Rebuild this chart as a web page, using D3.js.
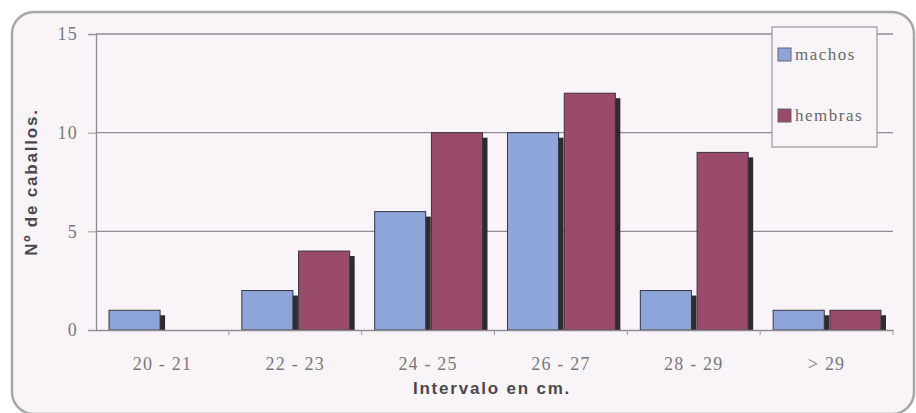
<!DOCTYPE html>
<html>
<head>
<meta charset="utf-8">
<script src="https://cdn.jsdelivr.net/npm/d3@7"></script>
<style>
  html, body { margin: 0; padding: 0; background: #ffffff; }
  svg { display: block; }
</style>
</head>
<body>
<svg id="chart"></svg>
<script>
// Datos
const categorias = ["20 - 21", "22 - 23", "24 - 25", "26 - 27", "28 - 29", "> 29"];
const series = ["machos", "hembras"];
const machos = [1, 2, 6, 10, 2, 1];
const hembras = [0, 4, 10, 12, 9, 1];
const yTicks = [0, 5, 10, 15];

const W = 916, H = 413;
const margin = { top: 34, right: 23, bottom: 83, left: 96 },
      width = W - margin.left - margin.right,
      height = H - margin.top - margin.bottom;

const colores = { machos: "#8ea5da", hembras: "#9a4a6a" };

const svg = d3.select("#chart").attr("width", W).attr("height", H);

// Marco redondeado
svg.append("rect")
  .attr("x", 12).attr("y", 12).attr("width", 902).attr("height", 402)
  .attr("rx", 22).attr("ry", 22)
  .attr("fill", "#f8f4f8")
  .attr("stroke", "#a9a6a9").attr("stroke-width", 2.5);

const g = svg.append("g").attr("transform", `translate(${margin.left},${margin.top})`);

// Escalas
const x0 = d3.scaleBand().domain(categorias).range([0, width]).padding(0);
const x1 = d3.scaleBand().domain(series).range([13, x0.bandwidth() - 12]).paddingInner(0.1);
const y = d3.scaleLinear().domain([0, 15]).range([height, 0]);

// Líneas de cuadrícula
g.selectAll(".grid").data(yTicks.filter(d => d > 0)).enter()
  .append("line")
  .attr("x1", 0).attr("x2", width)
  .attr("y1", d => y(d)).attr("y2", d => y(d))
  .attr("stroke", "#8e8c90").attr("stroke-width", 1.3);

// Datos por grupo
const datos = categorias.map((c, i) => ({ cat: c, valores: [
  { serie: "machos", v: machos[i] },
  { serie: "hembras", v: hembras[i] }
]}));

const grupos = g.selectAll(".grupo").data(datos).enter()
  .append("g").attr("transform", d => `translate(${x0(d.cat)},0)`);

// Sombras
grupos.selectAll(".sombra").data(d => d.valores.filter(v => v.v > 0)).enter()
  .append("rect")
  .attr("x", d => x1(d.serie) + 5)
  .attr("y", d => y(d.v) + 5)
  .attr("width", x1.bandwidth())
  .attr("height", d => Math.max(0, height - y(d.v) - 5))
  .attr("fill", "#2e2a30");

// Barras
grupos.selectAll(".barra").data(d => d.valores.filter(v => v.v > 0)).enter()
  .append("rect")
  .attr("x", d => x1(d.serie))
  .attr("y", d => y(d.v))
  .attr("width", x1.bandwidth())
  .attr("height", d => height - y(d.v))
  .attr("fill", d => colores[d.serie])
  .attr("stroke", "#3a3440").attr("stroke-width", 1);

// Ejes
const yAxis = g.append("g")
  .call(d3.axisLeft(y).tickValues(yTicks).tickSize(8).tickPadding(10));
const xAxis = g.append("g").attr("transform", `translate(0,${height})`)
  .call(d3.axisBottom(x0).tickSize(0).tickPadding(27));
// marcas entre categorías
g.selectAll(".xt").data(categorias).enter()
  .append("line")
  .attr("x1", d => x0(d) + x0.bandwidth()).attr("x2", d => x0(d) + x0.bandwidth())
  .attr("y1", height).attr("y2", height + 5)
  .attr("stroke", "#9a989c");

[yAxis, xAxis].forEach(a => {
  a.select(".domain").attr("stroke", "#8e8c90").attr("stroke-width", 1.3);
  a.selectAll(".tick line").attr("stroke", "#9a989c");
  a.selectAll("text")
    .attr("font-family", "'Liberation Serif', 'DejaVu Serif', serif")
    .attr("font-size", 18).attr("letter-spacing", 1.2).attr("fill", "#7a787c");
});

// Títulos de ejes
svg.append("text")
  .attr("x", 492).attr("y", 394)
  .attr("text-anchor", "middle")
  .attr("font-family", "'Liberation Sans', Arial, sans-serif")
  .attr("font-weight", "bold").attr("font-size", 17).attr("letter-spacing", 1.8)
  .attr("fill", "#4a484c")
  .text("Intervalo en cm.");

svg.append("text")
  .attr("transform", "translate(37,182) rotate(-90)")
  .attr("text-anchor", "middle")
  .attr("font-family", "'Liberation Sans', Arial, sans-serif")
  .attr("font-weight", "bold").attr("font-size", 17).attr("letter-spacing", 1.8)
  .attr("fill", "#4a484c")
  .text("Nº de caballos.");

// Leyenda
const leyenda = svg.append("g").attr("transform", "translate(772,27)");
leyenda.append("rect")
  .attr("width", 105).attr("height", 120)
  .attr("fill", "#f8f4f8").attr("stroke", "#a09ea2").attr("stroke-width", 1.3);
series.forEach((s, i) => {
  const fila = leyenda.append("g").attr("transform", `translate(6,${27 + i * 61})`);
  fila.append("rect").attr("x", 0).attr("y", -6).attr("width", 13).attr("height", 13)
    .attr("fill", colores[s]).attr("stroke", "#6a6470").attr("stroke-width", 1);
  fila.append("text").attr("x", 17).attr("y", 6)
    .attr("font-family", "'Liberation Serif', 'DejaVu Serif', serif")
    .attr("font-size", 17).attr("letter-spacing", 1.5).attr("fill", "#6a686c")
    .text(s);
});
</script>
</body>
</html>
